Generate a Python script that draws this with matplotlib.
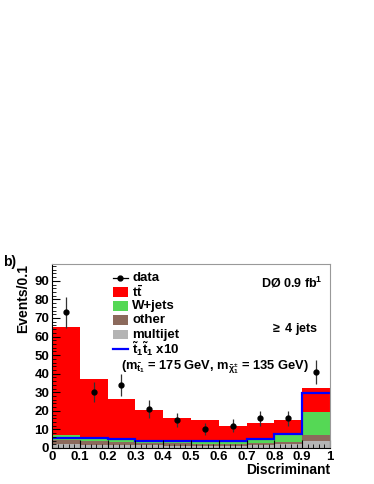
import matplotlib
matplotlib.use('agg')
import matplotlib.pyplot as plt
import numpy as np
from matplotlib.patches import Rectangle
from matplotlib.ticker import MultipleLocator, FuncFormatter

plt.rcParams['font.family'] = 'Liberation Sans'
plt.rcParams['font.weight'] = 'bold'
plt.rcParams['mathtext.fontset'] = 'custom'
plt.rcParams['mathtext.rm'] = 'Liberation Sans:bold'
plt.rcParams['mathtext.it'] = 'Liberation Sans:bold'
plt.rcParams['mathtext.bf'] = 'Liberation Sans:bold'

edges = np.linspace(0, 1, 11)
centers = [0.05, 0.15, 0.25, 0.35, 0.45, 0.55, 0.65, 0.75, 0.85, 0.95]

# stacked contributions (events per bin)
multijet = [2.0, 1.8, 1.6, 1.4, 1.3, 1.2, 1.2, 1.5, 2.0, 3.5]
other = [2.3, 2.0, 1.7, 1.1, 1.2, 1.1, 1.1, 1.3, 1.0, 3.5]
wjets = [2.9, 1.2, 1.5, 1.0, 1.0, 0.7, 1.0, 2.2, 4.0, 12.5]
ttbar = [57.8, 32.0, 21.7, 17.0, 12.8, 12.0, 8.7, 8.5, 8.3, 13.0]
signal_x10 = [5.3, 5.5, 5.0, 4.0, 3.7, 3.6, 3.7, 4.6, 7.3, 29.5]

data = [73, 30, 34, 21, 15, 10, 12, 16, 16, 41]
data_err = [8.5, 5.5, 5.8, 4.6, 3.9, 3.2, 3.5, 4.0, 4.0, 6.4]

colors = {'ttbar': '#ff0000', 'wjets': '#55d855', 'other': '#8c6a5c', 'multijet': '#b4b4b4'}

fig = plt.figure(figsize=(3.74, 4.84), dpi=100)
ax = fig.add_axes([0.139, 0.0744, 0.743, 0.38])

layers = [(multijet, colors['multijet']), (other, colors['other']),
          (wjets, colors['wjets']), (ttbar, colors['ttbar'])]
base = np.zeros(10)
for vals, col in layers:
    top = base + np.array(vals)
    ax.stairs(top, edges, baseline=base, fill=True, color=col, lw=0)
    base = top

ax.stairs(signal_x10, edges, baseline=None, color='#0000ff', lw=1.6)
ax.errorbar(centers, data, yerr=data_err, fmt='o', color='black', ecolor='#333333',
            ms=3.5, elinewidth=0.9, capsize=0)

ax.set_xlim(0, 1)
ax.set_ylim(0, 99)
ax.xaxis.set_major_locator(MultipleLocator(0.1))
ax.xaxis.set_minor_locator(MultipleLocator(0.02))
ax.yaxis.set_major_locator(MultipleLocator(10))
ax.yaxis.set_minor_locator(MultipleLocator(2))
ax.xaxis.set_major_formatter(FuncFormatter(lambda v, p: f'{v:.1f}' if 0.05 < v < 0.95 else str(int(round(v)))))
ax.tick_params(which='both', direction='in', labelsize=9.5, top=False, right=False)
ax.tick_params(which='major', length=6, width=0.8)
ax.tick_params(which='minor', length=3, width=0.6)
ax.tick_params(axis='both', pad=2)
for s in ['top', 'right']:
    ax.spines[s].set_color('#999999')

ax.set_ylabel('Events/0.1', loc='top', fontsize=10, fontweight='bold', labelpad=3)
ax.set_xlabel('Discriminant', loc='right', fontsize=10, fontweight='bold', labelpad=0)

# legend drawn by hand, rows in axes fraction
x0, x1, xt = 0.219, 0.273, 0.288
row0, step = 0.925, 0.077
tr = ax.transAxes
ax.plot([x0, x1], [row0, row0], color='black', lw=0.9, transform=tr)
ax.plot([(x0 + x1) / 2], [row0], 'o', color='black', ms=3.5, transform=tr)
ax.text(xt, row0, 'data', transform=tr, va='center', fontsize=9.5)
boxes = [('ttbar', r't$\bar{\rm t}$'), ('wjets', 'W+jets'), ('other', 'other'), ('multijet', 'multijet')]
for i, (key, lab) in enumerate(boxes, start=1):
    y = row0 - i * step
    ax.add_patch(Rectangle((x0, y - 0.027), x1 - x0, 0.054, color=colors[key], transform=tr, lw=0))
    ax.text(xt, y, lab, transform=tr, va='center', fontsize=9.5)
ysig = row0 - 5 * step
ax.plot([x0, x1], [ysig, ysig], color='#0000ff', lw=1.6, transform=tr)
ax.text(xt, ysig, r'$\tilde{\rm t}_1\tilde{\rm t}_1$ x10', transform=tr, va='center', fontsize=9.5)
ax.text(0.25, row0 - 6 * step - 0.025,
        r'(m$_{\tilde{\rm t}_1}$ = 175 GeV, m$_{\tilde{\chi}^{\pm}_1}$ = 135 GeV)',
        transform=tr, fontsize=9.3, va='center', ha='left')

ax.text(0.975, 0.895, r'DØ 0.9 fb$^{1}$', transform=tr, ha='right', va='center', fontsize=9)
ax.text(0.957, 0.645, r'$\geq$ 4 jets', transform=tr, ha='right', va='center', fontsize=9)
fig.text(0.008, 0.459, 'b)', fontsize=10, fontweight='bold', va='center')

fig.savefig('out.png', dpi=100)
